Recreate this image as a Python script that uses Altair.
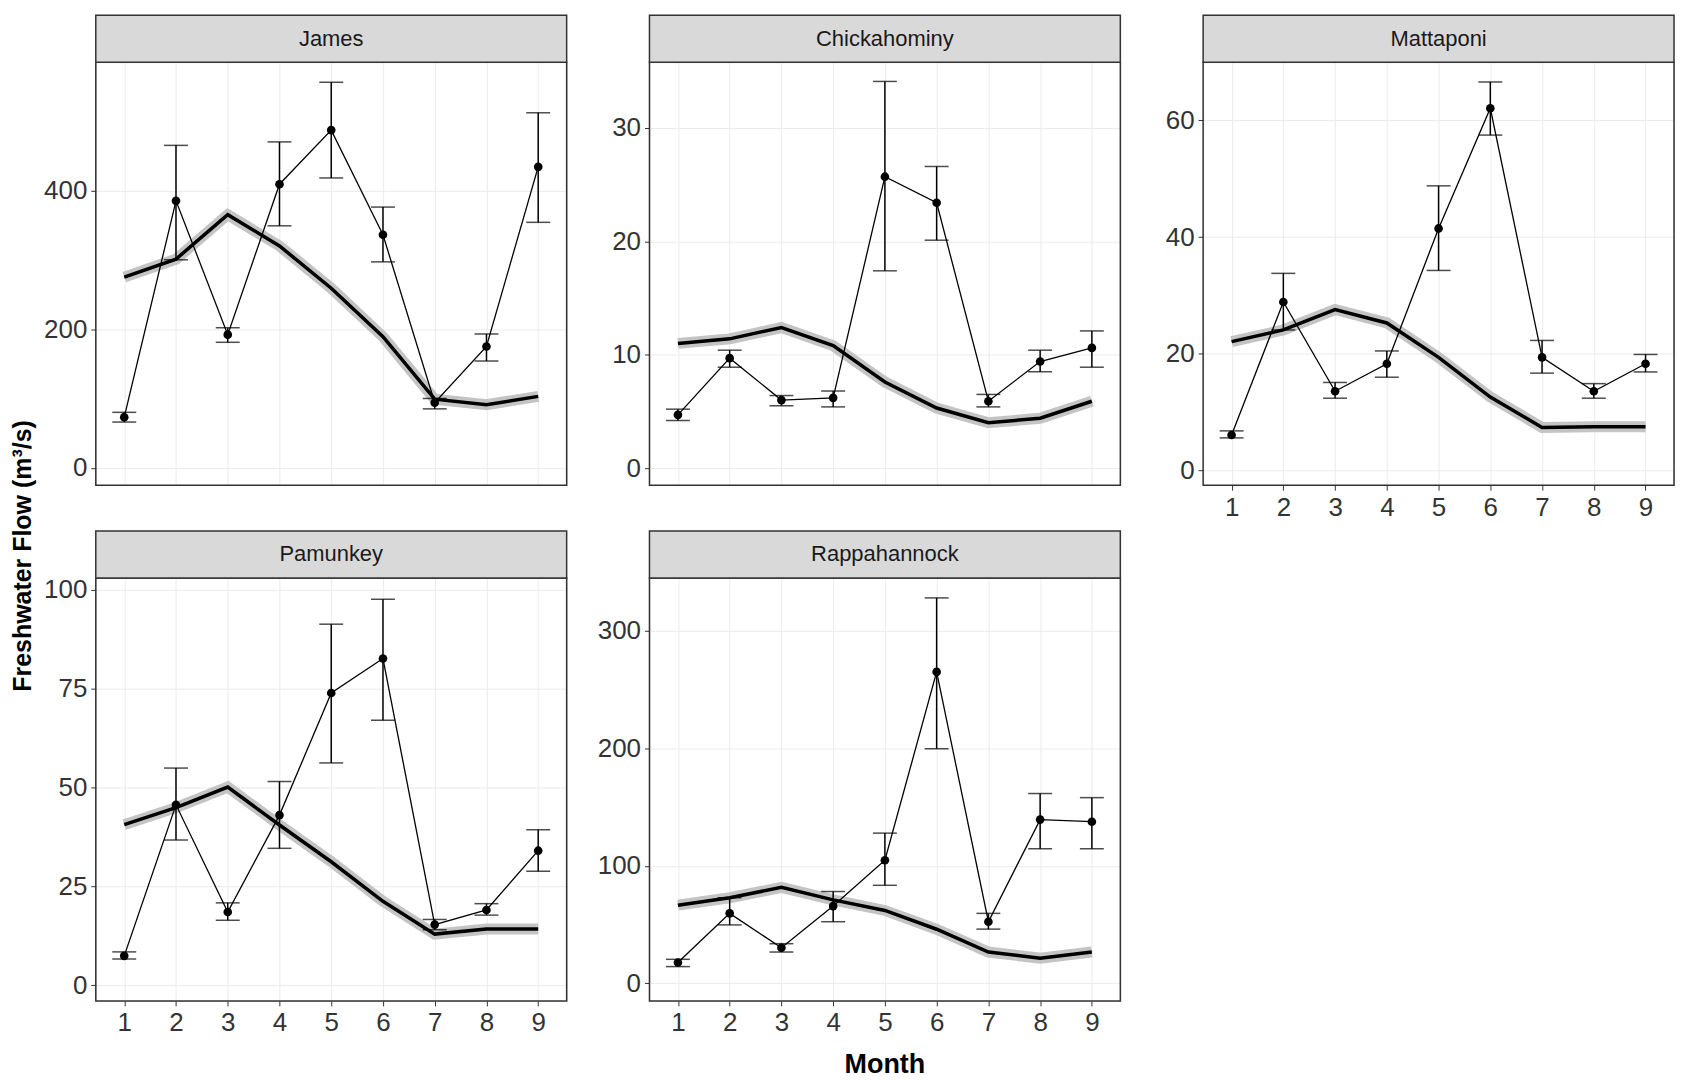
import altair as alt
import pandas as pd

months = list(range(1, 10))
rivers = ["James", "Chickahominy", "Mattaponi", "Pamunkey", "Rappahannock"]

mean_flow = {
    "James": [73, 385, 192, 409, 487, 336, 94, 175, 434],
    "Chickahominy": [4.7, 9.7, 6.0, 6.2, 25.7, 23.4, 5.9, 9.4, 10.6],
    "Mattaponi": [6.1, 28.9, 13.6, 18.3, 41.5, 62.1, 19.4, 13.6, 18.3],
    "Pamunkey": [7.4, 45.6, 18.5, 43, 73.9, 82.6, 15.3, 19, 34],
    "Rappahannock": [17.7, 59.5, 30.2, 65.7, 104.7, 265, 52.4, 139.3, 137.5],
}
err_hi = {
    "James": [80, 465, 202, 470, 556, 376, 100, 193, 512],
    "Chickahominy": [5.2, 10.4, 6.4, 6.8, 34.1, 26.6, 6.5, 10.4, 12.1],
    "Mattaponi": [6.8, 33.8, 15.1, 20.5, 48.8, 66.6, 22.3, 14.9, 19.9],
    "Pamunkey": [8.4, 54.9, 20.8, 51.5, 91.3, 97.6, 16.6, 20.6, 39.3],
    "Rappahannock": [20.4, 72.8, 33.7, 78.1, 127.8, 328, 59.5, 161.5, 158],
}
err_lo = {
    "James": [66, 300, 181, 349, 418, 297, 85, 154, 354],
    "Chickahominy": [4.2, 8.9, 5.5, 5.4, 17.4, 20.1, 5.4, 8.5, 8.9],
    "Mattaponi": [5.6, 24.1, 12.4, 16.0, 34.3, 57.5, 16.7, 12.4, 16.9],
    "Pamunkey": [6.6, 36.7, 16.4, 34.6, 56.2, 67, 14, 17.7, 28.8],
    "Rappahannock": [14.2, 49.7, 26.6, 52.4, 83.4, 199.6, 46.1, 114.5, 114.5],
}
smooth = {
    "James": [275, 301, 365, 320, 259, 189, 99, 91, 103],
    "Chickahominy": [11.0, 11.4, 12.4, 10.8, 7.6, 5.3, 4.0, 4.4, 5.9],
    "Mattaponi": [22.1, 24.1, 27.6, 25.3, 19.4, 12.6, 7.4, 7.5, 7.5],
    "Pamunkey": [40.6, 44.9, 50.1, 40.5, 31.2, 21.2, 12.9, 14.2, 14.2],
    "Rappahannock": [66.5, 72.8, 81.6, 71, 62, 46, 26.6, 21.3, 26.6],
}
y_ticks = {
    "James": [0, 200, 400],
    "Chickahominy": [0, 10, 20, 30],
    "Mattaponi": [0, 20, 40, 60],
    "Pamunkey": [0, 25, 50, 75, 100],
    "Rappahannock": [0, 100, 200, 300],
}
y_domain = {
    "James": [-25, 585],
    "Chickahominy": [-1.5, 35.8],
    "Mattaponi": [-2.5, 70],
    "Pamunkey": [-4, 103],
    "Rappahannock": [-15, 345],
}

W, H, STRIP = 472, 424, 47


def panel(name, show_x, extra=None):
    df = pd.DataFrame({"month": months, "flow": mean_flow[name],
                       "hi": err_hi[name], "lo": err_lo[name], "fit": smooth[name]})
    x = alt.X("month:Q", scale=alt.Scale(domain=[0.45, 9.55], nice=False),
              axis=alt.Axis(values=months, title=None, labels=show_x, ticks=show_x,
                            labelFontSize=26, labelColor="#333", tickColor="#333",
                            gridColor="#ebebeb", domain=False, labelPadding=4))
    y = alt.Y("flow:Q", scale=alt.Scale(domain=y_domain[name], nice=False, zero=False),
              axis=alt.Axis(values=y_ticks[name], title=None, labelFontSize=26,
                            labelColor="#333", tickColor="#333", gridColor="#ebebeb",
                            domain=False, labelPadding=4, minExtent=58))
    base = alt.Chart(df)
    band = base.mark_line(color="#c4c4c4", strokeWidth=11).encode(x=x, y=alt.Y("fit:Q"))
    fit = base.mark_line(color="black", strokeWidth=3.5).encode(x=x, y=alt.Y("fit:Q"))
    line = base.mark_line(color="black", strokeWidth=1.3).encode(x=x, y=y)
    pts = base.mark_circle(color="black", size=75, opacity=1).encode(x=x, y=y)
    err = base.mark_errorbar(ticks=alt.TickConfig(size=24, thickness=1.5), color="black",
                             thickness=1.5).encode(x=x, y=alt.Y("lo:Q", title=None), y2="hi:Q")
    one = pd.DataFrame({"t": [name]})
    border = alt.Chart(one).mark_rect(fillOpacity=0, stroke="#333", strokeWidth=1.5).encode(
        x=alt.value(0), x2=alt.value(W), y=alt.value(0), y2=alt.value(H))
    strip = alt.Chart(one).mark_rect(
        color="#d9d9d9", stroke="#333", strokeWidth=1.5, clip=False).encode(
        x=alt.value(0), x2=alt.value(W), y=alt.value(-STRIP), y2=alt.value(0))
    label = alt.Chart(one).mark_text(
        fontSize=22, color="#1a1a1a", font="Liberation Sans").encode(
        text="t:N", x=alt.value(W / 2), y=alt.value(-STRIP / 2))
    layers = [band, fit, line, err, pts, border, strip, label]
    if extra is not None:
        layers += extra
    return alt.layer(*layers).properties(width=W, height=H)


xlab = alt.Chart(pd.DataFrame({"t": ["Month"]})).mark_text(
    fontSize=27, fontWeight="bold", font="Liberation Sans").encode(
    text="t:N", x=alt.value(W / 2), y=alt.value(H + 64))

ylab = alt.Chart(pd.DataFrame({"t": ["Freshwater Flow (m³/s)"]})).mark_text(
    fontSize=25, fontWeight="bold", angle=270, font="Liberation Sans").encode(
    text="t:N", x=alt.value(10), y=alt.value(495)
).properties(width=20, height=1000, view=alt.ViewConfig(stroke="transparent"))

row1 = alt.hconcat(panel("James", False), panel("Chickahominy", False),
                   panel("Mattaponi", True), spacing=22)
row2 = alt.hconcat(panel("Pamunkey", True), panel("Rappahannock", True, [xlab]), spacing=22)
grid = alt.vconcat(row1, row2, spacing=8).resolve_scale(y="independent")

chart = alt.hconcat(ylab, grid, spacing=0).configure_view(
    stroke="transparent"
).configure(font="Liberation Sans", padding={"left": 2, "top": 4, "right": 2, "bottom": 2})

chart.save("out.html", embed_options={"renderer": "svg", "actions": False})
